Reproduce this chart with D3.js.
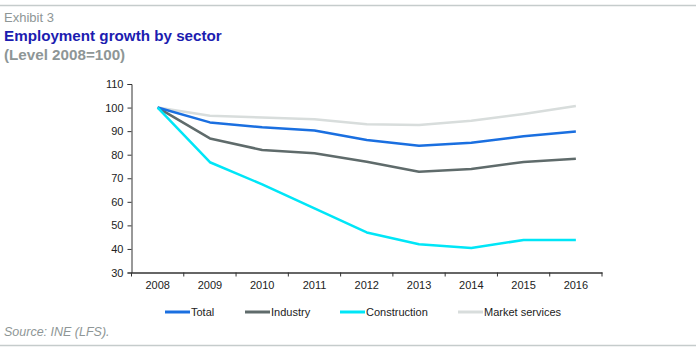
<!DOCTYPE html>
<html>
<head>
<meta charset="utf-8">
<script src="https://cdn.jsdelivr.net/npm/d3@7"></script>
<style>
body { margin: 0; background: #fff; font-family: "Liberation Sans", Arial, sans-serif; }
</style>
</head>
<body>
<div id="chart"></div>
<script>
var years = ["2008", "2009", "2010", "2011", "2012", "2013", "2014", "2015", "2016"];
var total = [100, 93.7, 91.6, 90.3, 86.2, 83.8, 85.1, 87.8, 89.8];
var industry = [100, 86.9, 82.0, 80.6, 77.0, 72.8, 73.9, 76.9, 78.3];
var construction = [100, 76.8, 67.4, 57.2, 47.0, 42.0, 40.4, 43.8, 43.8];
var marketServices = [100, 96.5, 95.8, 95.0, 92.9, 92.6, 94.4, 97.3, 100.7];
var yTicks = [30, 40, 50, 60, 70, 80, 90, 100, 110];

var series = [
  {name: "Market services", values: marketServices, color: "#d8dddc"},
  {name: "Industry", values: industry, color: "#5f6b6b"},
  {name: "Total", values: total, color: "#1a6fe0"},
  {name: "Construction", values: construction, color: "#00e6f7"}
];
var legendOrder = ["Total", "Industry", "Construction", "Market services"];

var W = 696, H = 351;
var svg = d3.select("#chart").append("svg")
  .attr("width", W).attr("height", H);

// rules
svg.append("line").attr("x1", 0).attr("x2", W).attr("y1", 5.5).attr("y2", 5.5)
  .attr("stroke", "#c5cccc").attr("stroke-width", 1.5);
svg.append("line").attr("x1", 0).attr("x2", W).attr("y1", 345.5).attr("y2", 345.5)
  .attr("stroke", "#c5cccc").attr("stroke-width", 1.5);

// titles
svg.append("text").attr("x", 4).attr("y", 22)
  .style("font-size", "13px").style("fill", "#8e9696").text("Exhibit 3");
svg.append("text").attr("x", 4).attr("y", 41)
  .style("font-size", "15.2px").style("font-weight", "bold").style("fill", "#1c1cb0")
  .text("Employment growth by sector");
svg.append("text").attr("x", 4).attr("y", 60)
  .style("font-size", "15.2px").style("font-weight", "bold").style("fill", "#8e9696")
  .text("(Level 2008=100)");
svg.append("text").attr("x", 4).attr("y", 336)
  .style("font-size", "12.5px").style("font-style", "italic").style("fill", "#8e9696")
  .text("Source: INE (LFS).");

var plotLeft = 131.5, plotRight = 602, plotTop = 84, plotBottom = 272.5;

var x = d3.scaleBand().domain(years).range([plotLeft, plotRight]);
var y = d3.scaleLinear().domain([30, 110]).range([plotBottom, plotTop]);

// y axis
var yAxis = svg.append("g")
  .attr("transform", "translate(" + plotLeft + ",0)")
  .call(d3.axisLeft(y).tickValues(yTicks).tickSize(4).tickPadding(4));
yAxis.select(".domain").attr("stroke", "#333");
yAxis.selectAll(".tick line").attr("stroke", "#333");
yAxis.selectAll("text").style("font-size", "11px").style("fill", "#222")
  .style("font-family", "Liberation Sans, Arial, sans-serif");

// x axis
var xAxis = svg.append("g")
  .attr("transform", "translate(0," + plotBottom + ")")
  .call(d3.axisBottom(x).tickSize(0).tickPadding(9));
xAxis.select(".domain").attr("stroke", "#333").attr("stroke-width", 1.5);
xAxis.selectAll("text").style("font-size", "11px").style("fill", "#222")
  .style("font-family", "Liberation Sans, Arial, sans-serif");
// ticks between categories
svg.append("g").selectAll("line")
  .data(years.concat(["end"]))
  .enter().append("line")
  .attr("x1", function(d, i) { return plotLeft + i * x.step(); })
  .attr("x2", function(d, i) { return plotLeft + i * x.step(); })
  .attr("y1", plotBottom).attr("y2", plotBottom + 4)
  .attr("stroke", "#333");

// lines
var line = d3.line()
  .x(function(d, i) { return x(years[i]) + x.bandwidth() / 2; })
  .y(function(d) { return y(d); });

svg.selectAll(".series")
  .data(series)
  .enter().append("path")
  .attr("class", "series")
  .attr("d", function(d) { return line(d.values); })
  .attr("fill", "none")
  .attr("stroke", function(d) { return d.color; })
  .attr("stroke-width", 2.5)
  .attr("stroke-linejoin", "round");

// legend
var legendX = [165, 245, 340, 458];
var legend = svg.append("g");
legendOrder.forEach(function(name, i) {
  var s = series.filter(function(d) { return d.name === name; })[0];
  legend.append("line")
    .attr("x1", legendX[i]).attr("x2", legendX[i] + 25)
    .attr("y1", 312).attr("y2", 312)
    .attr("stroke", s.color).attr("stroke-width", 3);
  legend.append("text")
    .attr("x", legendX[i] + 26).attr("y", 316)
    .style("font-size", "11px").style("fill", "#222")
    .text(name);
});
</script>
</body>
</html>
